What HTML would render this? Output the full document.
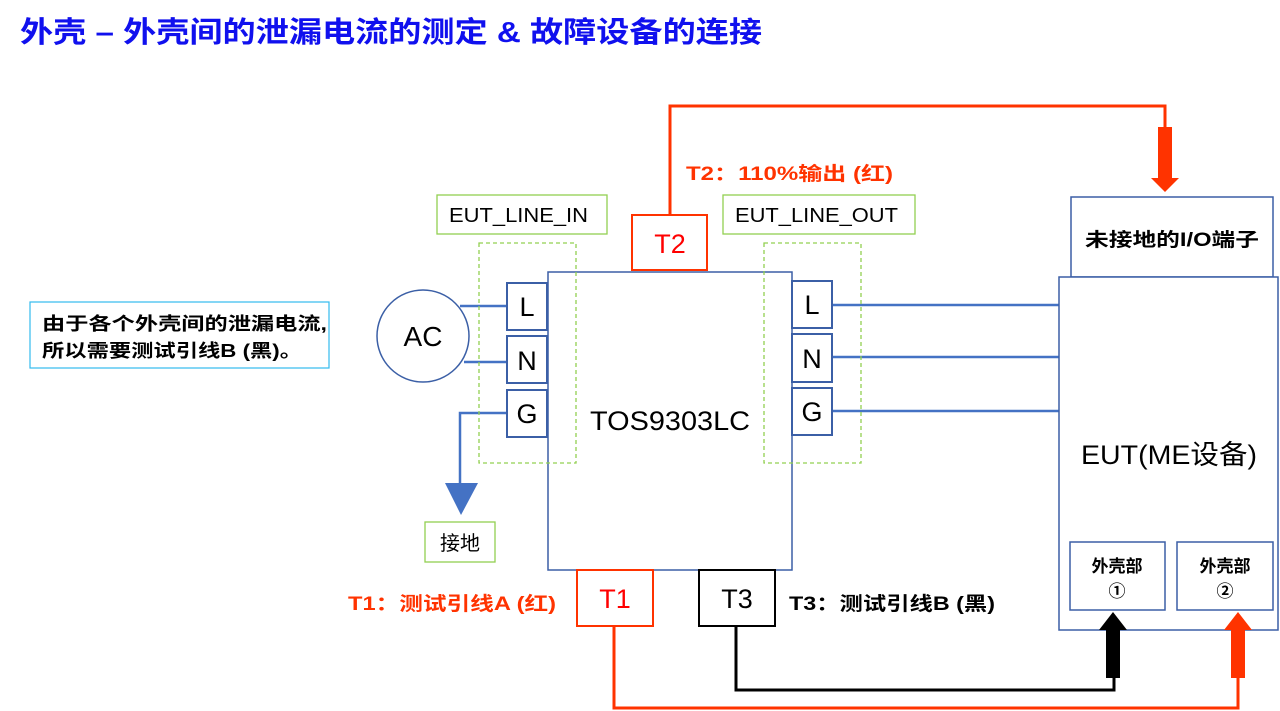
<!DOCTYPE html>
<html><head><meta charset="utf-8"><style>
html,body{margin:0;padding:0;background:#fff;width:1280px;height:711px;overflow:hidden}
svg text{font-family:"Liberation Sans","Noto Sans CJK SC",sans-serif}
</style></head><body>
<svg width="1280" height="711" viewBox="0 0 1280 711" xmlns="http://www.w3.org/2000/svg">
<text x="20" y="42" font-size="29" font-weight="bold" fill="#1010ee" textLength="742" lengthAdjust="spacingAndGlyphs">外壳 – 外壳间的泄漏电流的测定 &amp; 故障设备的连接</text>

<rect x="30" y="302" width="299" height="66" fill="#fff" stroke="#33bbee" stroke-width="1.2"/>
<text x="42" y="330" font-size="18" font-weight="bold" textLength="285" lengthAdjust="spacingAndGlyphs">由于各个外壳间的泄漏电流,</text>
<text x="42" y="357" font-size="18" font-weight="bold" textLength="260" lengthAdjust="spacingAndGlyphs">所以需要测试引线B (黑)。</text>

<polyline points="670,215 670,106 1165,106 1165,128" fill="none" stroke="#ff3300" stroke-width="3"/>
<rect x="1158" y="127" width="14" height="52" fill="#ff3300"/>
<polygon points="1151,178 1179,178 1165,192" fill="#ff3300"/>
<text x="686" y="180" font-size="19" font-weight="bold" fill="#ff3300" textLength="207" lengthAdjust="spacingAndGlyphs">T2：110%输出 (红)</text>

<rect x="437" y="195" width="170" height="39" fill="#fff" stroke="#92d050" stroke-width="1.3"/>
<text x="449" y="222" font-size="20" textLength="139" lengthAdjust="spacingAndGlyphs">EUT_LINE_IN</text>
<rect x="723" y="195" width="192" height="39" fill="#fff" stroke="#92d050" stroke-width="1.3"/>
<text x="735" y="222" font-size="20" textLength="163" lengthAdjust="spacingAndGlyphs">EUT_LINE_OUT</text>

<rect x="548" y="272" width="244" height="298" fill="#fff" stroke="#3b5fa6" stroke-width="1.5"/>
<text x="590" y="430" font-size="27" textLength="160" lengthAdjust="spacingAndGlyphs">TOS9303LC</text>
<rect x="632" y="215" width="75" height="55" fill="#fff" stroke="#ff3300" stroke-width="2"/>
<text x="670" y="253" font-size="27" text-anchor="middle" fill="#ff0000">T2</text>

<circle cx="423" cy="336" r="46" fill="#fff" stroke="#3b5fa6" stroke-width="1.5"/>
<text x="423" y="346" font-size="28" text-anchor="middle">AC</text>
<g stroke="#4472c4" stroke-width="2.5" fill="none">
<line x1="460" y1="306" x2="507" y2="306"/>
<line x1="464" y1="362" x2="510" y2="362"/>
<polyline points="507,413 460,413 460,488"/>
<line x1="832" y1="305" x2="1059" y2="305"/>
<line x1="832" y1="357" x2="1059" y2="357"/>
<line x1="832" y1="411" x2="1059" y2="411"/>
</g>
<polygon points="445,483 478,483 461,515" fill="#4472c4"/>
<rect x="425" y="522" width="70" height="40" fill="#fff" stroke="#92d050" stroke-width="1.3"/>
<text x="460" y="550" font-size="20" text-anchor="middle">接地</text>

<g stroke="#3b5fa6" stroke-width="2" fill="#fff">
<rect x="507" y="283" width="40" height="47"/><rect x="507" y="336" width="40" height="47"/><rect x="507" y="390" width="40" height="47"/>
<rect x="792" y="281" width="40" height="47"/><rect x="792" y="334" width="40" height="48"/><rect x="792" y="388" width="40" height="47"/>
</g>
<g font-size="27" text-anchor="middle">
<text x="527" y="316">L</text><text x="527" y="370">N</text><text x="527" y="423">G</text>
<text x="812" y="314">L</text><text x="812" y="368">N</text><text x="812" y="421">G</text>
</g>
<rect x="479" y="243" width="97" height="220" fill="none" stroke="#92d050" stroke-width="1.3" stroke-dasharray="4,3"/>
<rect x="764" y="243" width="97" height="220" fill="none" stroke="#92d050" stroke-width="1.3" stroke-dasharray="4,3"/>

<rect x="1071" y="197" width="202" height="80" fill="#fff" stroke="#3b5fa6" stroke-width="1.5"/>
<text x="1085" y="246" font-size="19" font-weight="bold" textLength="174" lengthAdjust="spacingAndGlyphs">未接地的I/O端子</text>
<rect x="1059" y="277" width="219" height="353" fill="#fff" stroke="#3b5fa6" stroke-width="1.5"/>
<text x="1081" y="464" font-size="27" textLength="176" lengthAdjust="spacingAndGlyphs">EUT(ME设备)</text>
<rect x="1070" y="542" width="95" height="68" fill="#fff" stroke="#3b5fa6" stroke-width="1.5"/>
<rect x="1177" y="542" width="96" height="68" fill="#fff" stroke="#3b5fa6" stroke-width="1.5"/>
<g font-size="17" font-weight="bold" text-anchor="middle">
<text x="1117" y="572">外壳部</text><text x="1117" y="597">①</text>
<text x="1225" y="572">外壳部</text><text x="1225" y="597">②</text>
</g>

<polyline points="614,626 614,708 1238,708 1238,640" fill="none" stroke="#ff3300" stroke-width="3"/>
<rect x="1231" y="628" width="14" height="50" fill="#ff3300"/>
<polygon points="1224,630 1252,630 1238,612" fill="#ff3300"/>
<polyline points="736,626 736,690 1114,690 1114,670" fill="none" stroke="#000" stroke-width="3"/>
<rect x="1106" y="628" width="14" height="50" fill="#000"/>
<polygon points="1099,630 1127,630 1113,612" fill="#000"/>
<rect x="577" y="570" width="76" height="56" fill="#fff" stroke="#ff3300" stroke-width="2"/>
<text x="615" y="608" font-size="27" text-anchor="middle" fill="#ff0000">T1</text>
<rect x="699" y="570" width="76" height="56" fill="#fff" stroke="#000" stroke-width="2"/>
<text x="737" y="608" font-size="27" text-anchor="middle">T3</text>
<text x="348" y="610" font-size="19" font-weight="bold" fill="#ff3300" textLength="208" lengthAdjust="spacingAndGlyphs">T1：测试引线A (红)</text>
<text x="789" y="610" font-size="19" font-weight="bold" textLength="206" lengthAdjust="spacingAndGlyphs">T3：测试引线B (黑)</text>
</svg>
</body></html>
